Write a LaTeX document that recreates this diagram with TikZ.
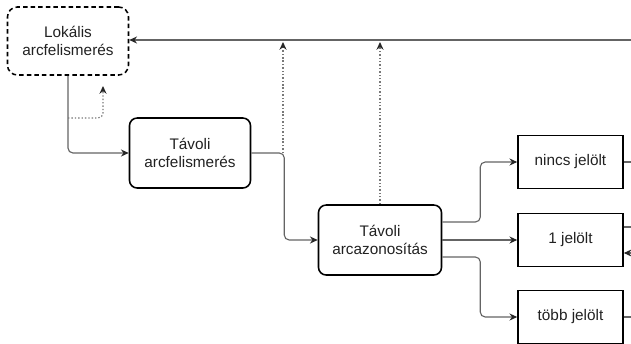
\documentclass[tikz,border=0pt]{standalone}
\usepackage{fontspec}
\setmainfont{Liberation Sans}
\usetikzlibrary{arrows.meta,calc}

\definecolor{linegray}{RGB}{100,100,100}
\definecolor{dotgray}{RGB}{120,120,120}

\begin{document}
\begin{tikzpicture}[
    x=0.025cm, y=-0.025cm,
    every node/.style={font=\fontsize{10.9}{13}\selectfont,align=center,text=black!87},
    stage/.style={draw,line width=1.1pt,rounded corners=5.5pt,minimum width=3.025cm,minimum height=1.75cm,inner sep=2pt},
    local/.style={stage,dash pattern=on 3.2pt off 2.2pt,rounded corners=7pt,minimum height=1.7cm},
    result/.style={draw,line width=1.1pt,minimum width=2.625cm,minimum height=1.325cm,inner sep=2pt},
    conn/.style={-{Stealth[length=5.5pt,width=5pt,color=black!85]},draw=linegray,line width=0.8pt,rounded corners=3.5pt},
    dotconn/.style={conn,draw=dotgray,dash pattern=on 1pt off 1.4pt}
]
\useasboundingbox (0,0) rectangle (631,343);

\node[local] (lok) at (68,41) {Lokális\\arcfelismerés};
\node[stage] (tfel) at (190,153) {Távoli\\arcfelismerés};
\node[stage,minimum width=3.075cm] (tazon) at (380,240) {Távoli\\arcazonosítás};
\node[result] (nincs) at (570.5,162) {nincs jelölt};
\node[result] (egy) at (570.5,240) {1 jelölt};
\node[result] (tobb) at (570.5,317) {több jelölt};

% free ends at the right edge and on the feedback line
\coordinate (redge) at (631,40);
\coordinate (fb1) at (283,42);
\coordinate (fb2) at (380,42);
\coordinate (lokdot) at (68,118);
\coordinate (lokback) at (103,86);

% feedback line
\draw[conn] (redge) -- (lok.east |- redge);

\draw[conn] (lok.south) |- (tfel.west);
\draw[dotconn] (lokdot) -| (lokback);

\draw[conn] (tfel.east) -- ++(33,0) |- (tazon.west);
\draw[dotconn] (tfel.east -| fb1) -- (fb1);
\draw[dotconn] (tazon.north) -- (fb2);

\draw[conn] ($(tazon.east)+(0,-18)$) -- ++(38,0) |- (nincs.west);
\draw[conn] (tazon.east) -- (egy.west);
\draw[conn] ($(tazon.east)+(0,17)$) -- ++(38,0) |- (tobb.west);

% stubs leaving the picture
\draw[draw=linegray,line width=0.8pt] (nincs.east) -- (nincs.east -| redge);
\draw[draw=linegray,line width=0.8pt] ($(egy.east)+(0,-13)$) -- ($(egy.east -| redge)+(0,-13)$);
\draw[conn] ($(egy.east -| redge)+(0,13)$) -- ($(egy.east)+(0,13)$);
\draw[draw=linegray,line width=0.8pt] (tobb.east) -- (tobb.east -| redge);
\end{tikzpicture}
\end{document}
